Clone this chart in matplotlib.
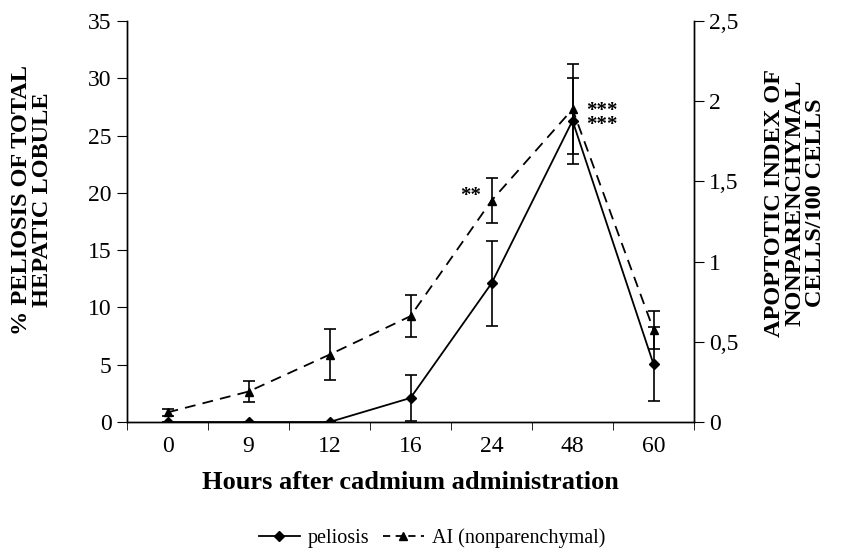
import numpy as np
import matplotlib
matplotlib.use("Agg")
import matplotlib.pyplot as plt
from matplotlib.lines import Line2D
from matplotlib.ticker import FuncFormatter

# ========== Data ==========
hours = ["0", "9", "12", "16", "24", "48", "60"]

# % peliosis of total hepatic lobule (left axis)
peliosis = [0, 0, 0, 2.1, 12.1, 26.3, 5.05]
peliosis_err = [0, 0, 0, 2.0, 3.7, 3.75, 3.25]

# apoptotic index of nonparenchymal cells (right axis)
ai_nonpar = [0.06, 0.19, 0.42, 0.66, 1.38, 1.95, 0.575]
ai_err = [0.02, 0.064, 0.16, 0.13, 0.14, 0.28, 0.12]

left_ticks = [0, 5, 10, 15, 20, 25, 30, 35]
right_ticks = [0, 0.5, 1, 1.5, 2, 2.5]

# ========== Style ==========
plt.rcParams['font.family'] = ['Liberation Serif', 'DejaVu Serif']
plt.rcParams['axes.linewidth'] = 1.0

fig = plt.figure(figsize=(8.44, 5.55), dpi=100)
ax = fig.add_axes([0.1505, 0.2396, 0.6718, 0.7226])
ax2 = ax.twinx()

x = np.arange(len(hours))

ax.errorbar(x, peliosis, yerr=peliosis_err, color='black', lw=1.3,
            marker='D', ms=5, capsize=4, elinewidth=1.2, capthick=1.2)
eb = ax2.errorbar(x, ai_nonpar, yerr=ai_err, color='black', lw=1.3, ls=(0, (6, 4)),
                  marker='^', ms=6, capsize=4, elinewidth=1.2, capthick=1.2)
eb[-1][0].set_linestyle('-')

ax.set_xlim(-0.5, len(hours) - 0.5)
ax.set_ylim(0, 35)
ax2.set_ylim(0, 2.5)
ax.set_yticks(left_ticks)
ax2.set_yticks(right_ticks)
ax2.yaxis.set_major_formatter(FuncFormatter(lambda v, p: f"{v:g}".replace('.', ',')))

ax.set_xticks(x)
ax.set_xticklabels(hours)
ax.set_xticks(np.arange(-0.5, len(hours)), minor=True)
ax.tick_params(axis='x', which='major', length=0, labelsize=17, pad=10)
ax.tick_params(axis='x', which='minor', length=6, direction='out')
ax.tick_params(axis='y', length=7, labelsize=17, direction='out', pad=4)
ax2.tick_params(axis='y', length=7, labelsize=17, direction='out', pad=4)

for a in (ax, ax2):
    a.spines['top'].set_visible(False)

ax.set_xlabel('Hours after cadmium administration', fontsize=19, fontweight='bold', labelpad=10)

fig.text(0.038, 0.64, '% PELIOSIS OF TOTAL\nHEPATIC LOBULE', rotation=90,
         ha='center', va='center', fontsize=17.5, fontweight='bold', linespacing=1.0)
fig.text(0.942, 0.635, 'APOPTOTIC INDEX OF\nNONPARENCHYMAL\nCELLS/100 CELLS', rotation=90,
         ha='center', va='center', fontsize=17.5, fontweight='bold', linespacing=0.95)

# significance marks
ax2.text(4 - 0.13, ai_nonpar[4] + 0.03, '**', ha='right', va='center', fontsize=15, fontweight='bold')
ax2.text(5 + 0.17, ai_nonpar[5] - 0.055, '***\n***', ha='left', va='center', fontsize=15,
         fontweight='bold', linespacing=0.55)

handles = [Line2D([], [], color='black', lw=1.3, marker='D', ms=5),
           Line2D([], [], color='black', lw=1.3, ls=(0, (4, 3)), marker='^', ms=6)]
fig.legend(handles=handles, labels=['peliosis', 'AI (nonparenchymal)'], loc='center',
           bbox_to_anchor=(0.512, 0.03), ncol=2, frameon=False, fontsize=14.5,
           handlelength=2.0, handletextpad=0.4, columnspacing=0.7)

fig.savefig('out.png', dpi=100)
